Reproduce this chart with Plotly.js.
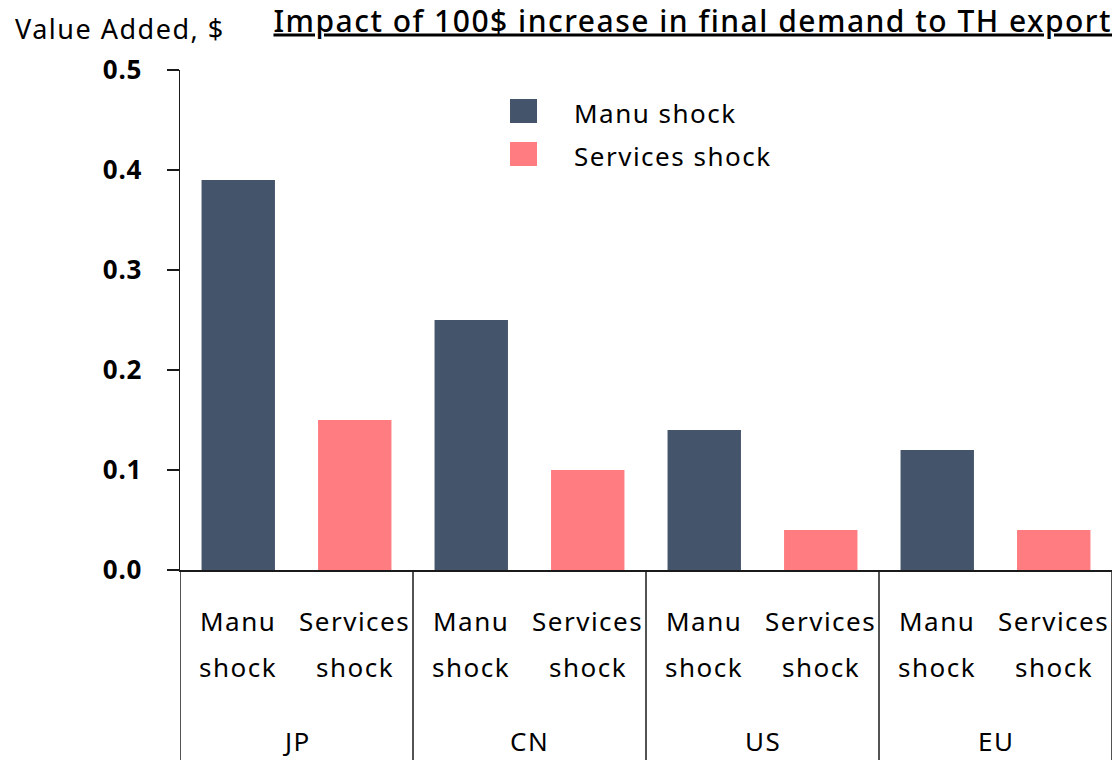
<!DOCTYPE html>
<html>
<head>
<meta charset="utf-8">
<script src="https://cdn.plot.ly/plotly-3.0.1.min.js"></script>
<style>
html,body{margin:0;padding:0;background:#fff;}
#chart{width:1119px;height:760px;}
.annotation-text, .gtitle { letter-spacing: 1.5px; }
.ytick text { letter-spacing: 0.8px; }
</style>
</head>
<body>
<div id="chart"></div>
<script>
// ---- data ----
const regions = ["JP", "CN", "US", "EU"];
const shocks = ["Manu shock", "Services shock"];
const shockLabels = [["Manu", "shock"], ["Services", "shock"]];
const manuValues = [0.39, 0.25, 0.14, 0.12];
const servicesValues = [0.15, 0.10, 0.04, 0.04];
const yTickVals = [0, 0.1, 0.2, 0.3, 0.4, 0.5];
const yTickText = ["0.0", "0.1", "0.2", "0.3", "0.4", "0.5"];
const titleText = "Impact of 100$ increase in final demand to TH export";
const yTitleText = "Value Added, $";

// ---- style ----
const FONT = "Noto Sans, Open Sans, DejaVu Sans, sans-serif";
const colors = ["#44546A", "#FF7C80"];
const nShock = shocks.length;

const manuX = regions.map((r, i) => i * nShock);
const servX = regions.map((r, i) => i * nShock + 1);

const traces = [
  {type: "bar", x: manuX, y: manuValues, name: shocks[0], width: 0.63,
   marker: {color: colors[0]}, hoverinfo: "y"},
  {type: "bar", x: servX, y: servicesValues, name: shocks[1], width: 0.63,
   marker: {color: colors[1]}, hoverinfo: "y"}
];

const H = 500; // plot height px
const py = px => -(px - 570) / H; // pixel below zero line -> paper

const shapes = [];
const annotations = [];

// dividers
for (let i = 0; i <= regions.length; i++) {
  shapes.push({type: "line", xref: "x", yref: "paper", x0: i * nShock - 0.5, x1: i * nShock - 0.5,
    y0: 0, y1: py(762), line: {color: "#1a1a1a", width: 1.5}});
}
// category labels
regions.forEach((r, i) => {
  shockLabels.forEach((lab, j) => {
    const x = i * nShock + j;
    annotations.push({xref: "x", yref: "paper", x: x, y: py(621), text: lab[0], showarrow: false,
      xanchor: "center", yanchor: "middle", font: {family: FONT, size: 26, color: "#000"}});
    annotations.push({xref: "x", yref: "paper", x: x, y: py(667), text: lab[1], showarrow: false,
      xanchor: "center", yanchor: "middle", font: {family: FONT, size: 26, color: "#000"}});
  });
  annotations.push({xref: "x", yref: "paper", x: i * nShock + (nShock - 1) / 2, y: py(741), text: r,
    showarrow: false, xanchor: "center", yanchor: "middle", font: {family: FONT, size: 26, color: "#000"}});
});

// legend (manual)
const legTop = [99, 142];
shocks.forEach((s, k) => {
  shapes.push({type: "rect", xref: "paper", yref: "paper",
    x0: (510 - 180) / 932, x1: (537 - 180) / 932,
    y0: 1 - (legTop[k] - 70) / H, y1: 1 - (legTop[k] + 24 - 70) / H,
    fillcolor: colors[k], line: {width: 0}});
  annotations.push({xref: "paper", yref: "paper", x: (572 - 180) / 932, y: 1 - (legTop[k] + 14 - 70) / H,
    text: s, showarrow: false, xanchor: "left", yanchor: "middle",
    font: {family: FONT, size: 26, color: "#000"}});
});

// y title
annotations.push({xref: "paper", yref: "paper", x: -167 / 932, y: 1 + (70 - 29) / H, text: yTitleText,
  showarrow: false, xanchor: "left", yanchor: "middle", font: {family: FONT, size: 27, color: "#000"}});

const layout = {
  width: 1119, height: 760,
  margin: {l: 180, r: 7, t: 70, b: 190},
  paper_bgcolor: "#fff", plot_bgcolor: "#fff",
  showlegend: false,
  title: {text: titleText, x: 1, xref: "paper", xanchor: "right", y: 1 - 21 / 760, yref: "container", yanchor: "middle",
    font: {family: FONT, size: 30, color: "#000", weight: 500, lineposition: "under"}},
  barmode: "overlay",
  xaxis: {range: [-0.5, regions.length * nShock - 0.5], showticklabels: false, ticks: "",
    showgrid: false, zeroline: false, showline: true, linecolor: "#1a1a1a", linewidth: 1.5, fixedrange: true},
  yaxis: {range: [0, 0.5], tickvals: yTickVals, ticktext: yTickText, ticks: "outside", ticklen: 12,
    tickwidth: 1.5, tickcolor: "#1a1a1a", showline: true, linecolor: "#1a1a1a", linewidth: 1.5,
    showgrid: false, zeroline: false, ticklabelstandoff: 19,
    tickfont: {family: FONT, size: 26, color: "#000", weight: "bold"}, fixedrange: true},
  shapes: shapes,
  annotations: annotations
};

Plotly.newPlot("chart", traces, layout, {displayModeBar: false, staticPlot: true});
</script>
</body>
</html>
